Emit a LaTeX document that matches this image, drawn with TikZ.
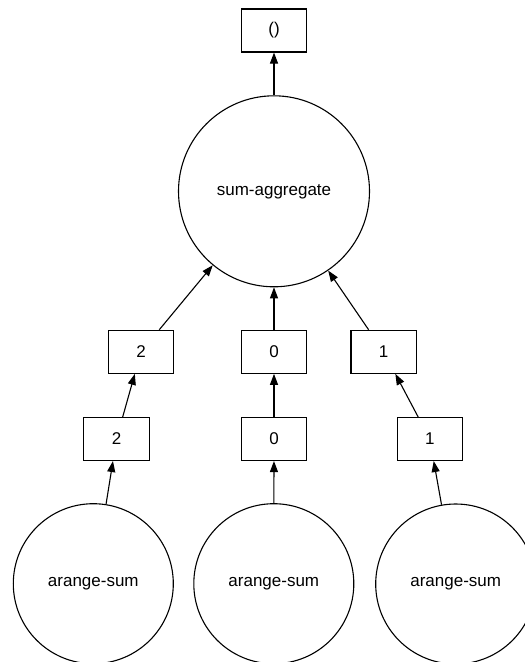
\documentclass[tikz,border=0pt]{standalone}
\usepackage{fontspec}
\setmainfont{Liberation Sans}
\usetikzlibrary{arrows.meta}
\tikzset{
  box/.style={draw, line width=1.1pt, rectangle, minimum width=65.5pt, minimum height=43pt, inner sep=0pt, font=\fontsize{17}{20}\selectfont},
  bigcirc/.style={draw, line width=1.1pt, circle, minimum size=191pt, inner sep=0pt, font=\fontsize{17}{20}\selectfont},
  smallcirc/.style={draw, line width=1.1pt, circle, minimum size=160pt, inner sep=0pt, font=\fontsize{17}{20}\selectfont},
  edge/.style={line width=1.1pt, -{Triangle[length=11pt,width=8pt]}, shorten >=0pt}
}
\begin{document}
\begin{tikzpicture}[x=1pt,y=-1pt]
\useasboundingbox (0,0) rectangle (525,662);
\clip (0,0) rectangle (525,662);
\node[box] (top) at (274,30.5) {()};
\node[bigcirc] (agg) at (274,191.3) {sum-aggregate};
\node[box] (m2) at (141,351.8) {2};
\node[box] (m0) at (274,351.8) {0};
\node[box] (m1) at (383.7,351.8) {1};
\node[box] (l2) at (116.5,439) {2};
\node[box] (l0) at (274,439) {0};
\node[box] (l1) at (429.8,439) {1};
\node[smallcirc] (a2) at (93.3,583.7) {arange-sum};
\node[smallcirc] (a0) at (273.8,583.7) {arange-sum};
\node[smallcirc] (a1) at (455.7,584) {arange-sum};
\draw[edge] (agg) -- (top);
\draw[edge] (m2) -- (agg);
\draw[edge] (m0) -- (agg);
\draw[edge] (m1) -- (agg);
\draw[edge] (l2) -- (m2);
\draw[edge] (l0) -- (m0);
\draw[edge] (l1) -- (m1);
\draw[edge] (a2) -- (l2);
\draw[edge] (a0) -- (l0);
\draw[edge] (a1) -- (l1);
\end{tikzpicture}
\end{document}
